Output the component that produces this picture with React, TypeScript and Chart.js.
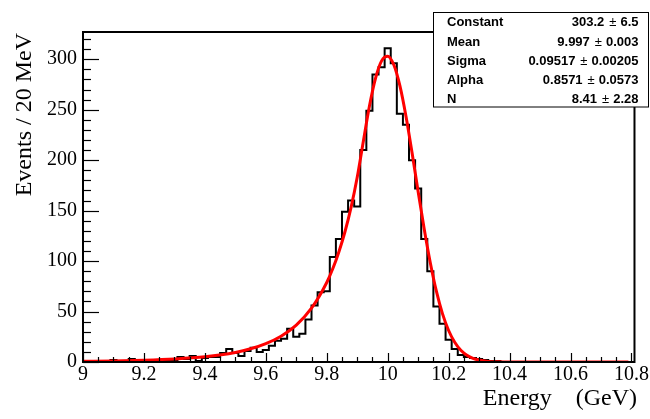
import React, { useEffect, useRef } from "react";
import { Chart, registerables } from "chart.js";

Chart.register(...registerables);

// ---- data ----
const binStart = 9.0; // centre of first bin (GeV)
const binWidth = 0.02; // 20 MeV
const counts = [
  0, 0, 1, 0, 0, 2, 0, 1, 3, 0,
  1, 1, 1, 1, 2, 2, 5, 3, 6, 1,
  4, 5, 5, 9, 13, 9, 6, 11, 14, 10,
  12, 16, 21, 23, 33, 25, 28, 42, 56, 69,
  70, 104, 122, 149, 160, 154, 210, 249, 285, 292,
  311, 296, 246, 235, 200, 172, 122, 90, 55, 38,
  22, 13, 7, 5, 4, 3, 2, 1, 1, 0,
  0, 0, 0, 0, 0, 0, 0, 0, 0, 0,
  0, 0, 0, 0, 0, 0, 0, 0, 0, 0, 0,
];

const curveX = [
  9.0, 9.1, 9.2, 9.3, 9.4, 9.5, 9.55, 9.6, 9.65, 9.7, 9.75, 9.8, 9.82, 9.84, 9.86, 9.88,
  9.9, 9.92, 9.94, 9.96, 9.98, 10.0, 10.02, 10.04, 10.06, 10.08, 10.1, 10.12, 10.14,
  10.16, 10.18, 10.2, 10.22, 10.24, 10.26, 10.28, 10.3, 10.33, 10.36, 10.4, 10.79,
];
const curveY = [
  0.7, 1.1, 1.8, 3.0, 5.2, 9.5, 13.1, 18.2, 25.6, 36.6, 53.3, 78.8, 92.6, 109.3, 129.3, 153.5,
  183.0, 218.6, 253.4, 281.1, 298.4, 303.0, 294.5, 273.8, 243.5, 207.3, 168.8, 131.5, 98.1,
  69.9, 47.7, 31.2, 19.5, 11.6, 6.7, 3.6, 1.9, 0.6, 0.2, 0.0, 0.0,
];

const xMin = 9.0;
const xMax = 10.81;
const yMin = 0;
const yMax = 327;

const xTickValues = [9, 9.2, 9.4, 9.6, 9.8, 10, 10.2, 10.4, 10.6, 10.8];
const xTickLabels = ["9", "9.2", "9.4", "9.6", "9.8", "10", "10.2", "10.4", "10.6", "10.8"];
const yTickValues = [0, 50, 100, 150, 200, 250, 300];
const yTickLabels = ["0", "50", "100", "150", "200", "250", "300"];

const xTitle = "Energy    (GeV)";
const yTitle = "Events / 20 MeV";

const statNames = ["Constant", "Mean", "Sigma", "Alpha", "N"];
const statValues = ["303.2", "9.997", "0.09517", "0.8571", "8.41"];
const statErrors = ["6.5", "0.003", "0.00205", "0.0573", "2.28"];

const SERIF = "'Liberation Serif', 'Times New Roman', serif";
const SANS = "'Liberation Sans', Arial, sans-serif";

const rootDecor = {
  id: "rootDecor",
  afterDraw(chart: any) {
    const { ctx, chartArea: a, scales } = chart;
    const x = scales.x;
    const y = scales.y;
    ctx.save();
    ctx.strokeStyle = "#000";
    ctx.lineWidth = 2;
    // frame
    ctx.strokeRect(a.left, a.top, a.right - a.left, a.bottom - a.top);
    // x ticks (inside)
    ctx.lineWidth = 1.2;
    for (let i = 0; i <= 36; i++) {
      const v = 9 + i * 0.05;
      const px = Math.round(x.getPixelForValue(v)) + 0.5;
      const len = i % 4 === 0 ? 9 : 5;
      ctx.beginPath();
      ctx.moveTo(px, a.bottom);
      ctx.lineTo(px, a.bottom - len);
      ctx.stroke();
    }
    // y ticks (inside)
    for (let j = 0; j <= 32; j++) {
      const v = j * 10;
      const py = Math.round(y.getPixelForValue(v)) + 0.5;
      const len = j % 5 === 0 ? 16 : 8;
      ctx.beginPath();
      ctx.moveTo(a.left, py);
      ctx.lineTo(a.left + len, py);
      ctx.stroke();
    }
    // axis titles
    ctx.fillStyle = "#000";
    ctx.font = `24px ${SERIF}`;
    ctx.textAlign = "right";
    ctx.textBaseline = "alphabetic";
    ctx.fillText(xTitle, 637, 405);
    ctx.save();
    ctx.translate(31, 33);
    ctx.rotate(-Math.PI / 2);
    ctx.textAlign = "right";
    ctx.fillText(yTitle, 0, 0);
    ctx.restore();

    // stats box
    const bx = 433.5, by = 12.5, bw = 215, bh = 94.5;
    ctx.fillStyle = "#fff";
    ctx.fillRect(bx, by, bw, bh);
    ctx.lineWidth = 1;
    ctx.strokeStyle = "#000";
    ctx.strokeRect(bx, by, bw, bh);
    const rowY = [22.7, 42.4, 61.4, 80.4, 99.4];
    ctx.fillStyle = "#000";
    ctx.textBaseline = "middle";
    for (let r = 0; r < statNames.length; r++) {
      ctx.font = `bold 13px ${SANS}`;
      ctx.textAlign = "left";
      ctx.fillText(statNames[r], 447, rowY[r]);
      ctx.textAlign = "right";
      const xr = 638.5;
      ctx.fillText(statErrors[r], xr, rowY[r]);
      const we = ctx.measureText(statErrors[r]).width;
      ctx.font = `13px ${SANS}`;
      const pm = "\u00b1";
      ctx.fillText(pm, xr - we - 4, rowY[r]);
      const wp = ctx.measureText(pm).width;
      ctx.font = `bold 13px ${SANS}`;
      ctx.fillText(statValues[r], xr - we - 4 - wp - 5, rowY[r]);
    }
    ctx.restore();
  },
};

export default function App() {
  const ref = useRef<HTMLCanvasElement | null>(null);
  useEffect(() => {
    document.body.style.margin = "0";
    const canvas = ref.current;
    if (!canvas) return;
    const histData = counts.map((c, i) => ({ x: binStart + i * binWidth, y: c }));
    const fitData = curveX.map((cx, i) => ({ x: cx, y: curveY[i] }));
    const chart = new Chart(canvas, {
      type: "line",
      data: {
        datasets: [
          {
            label: "fit",
            data: fitData,
            borderColor: "#ff0000",
            borderWidth: 3,
            pointRadius: 0,
            fill: false,
            cubicInterpolationMode: "monotone",
          },
          {
            label: "data",
            data: histData,
            borderColor: "#000000",
            borderWidth: 2,
            pointRadius: 0,
            fill: false,
            stepped: "middle",
            borderJoinStyle: "miter",
          },
        ],
      },
      options: {
        animation: false,
        responsive: false,
        devicePixelRatio: 1,
        layout: { padding: { left: 0, right: 11, top: 32, bottom: 0 } },
        plugins: { legend: { display: false }, tooltip: { enabled: false } },
        scales: {
          x: {
            type: "linear",
            min: xMin,
            max: xMax,
            grid: { display: false, drawTicks: false },
            border: { display: false },
            afterBuildTicks: (s: any) => {
              s.ticks = xTickValues.map((v) => ({ value: v }));
            },
            afterFit: (s: any) => {
              s.height = 57;
            },
            ticks: {
              autoSkip: false,
              maxRotation: 0,
              minRotation: 0,
              padding: 1,
              color: "#000",
              font: { family: SERIF, size: 20 },
              callback: (v: any) => {
                const i = xTickValues.findIndex((t) => Math.abs(t - Number(v)) < 1e-6);
                return i >= 0 ? xTickLabels[i] : "";
              },
            },
          },
          y: {
            type: "linear",
            min: yMin,
            max: yMax,
            grid: { display: false, drawTicks: false },
            border: { display: false },
            afterBuildTicks: (s: any) => {
              s.ticks = yTickValues.map((v) => ({ value: v }));
            },
            afterFit: (s: any) => {
              s.width = 83;
            },
            ticks: {
              autoSkip: false,
              padding: 6,
              color: "#000",
              font: { family: SERIF, size: 20 },
              callback: (v: any) => {
                const i = yTickValues.findIndex((t) => Math.abs(t - Number(v)) < 1e-6);
                return i >= 0 ? yTickLabels[i] : "";
              },
            },
          },
        },
      },
      plugins: [rootDecor],
    });
    return () => chart.destroy();
  }, []);
  return (
    <div style={{ width: 650, height: 419 }}>
      <canvas ref={ref} width={650} height={419} style={{ display: "block" }} />
    </div>
  );
}
